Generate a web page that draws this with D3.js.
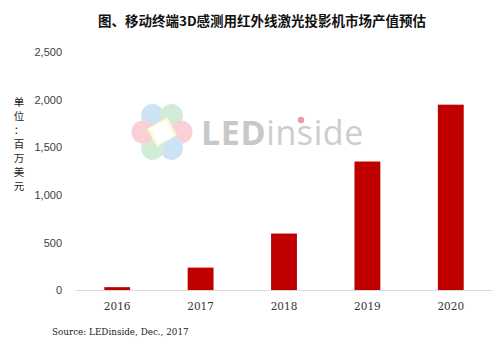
<!DOCTYPE html>
<html>
<head>
<meta charset="utf-8">
<script src="https://cdn.jsdelivr.net/npm/d3@7"></script>
<style>
  body { margin: 0; background: #fff; }
  svg { display: block; }
</style>
</head>
<body>
<div id="chart"></div>
<script>
var years = ["2016", "2017", "2018", "2019", "2020"];
var values = [35, 240, 597, 1352, 1948];
var yTicks = [0, 500, 1000, 1500, 2000, 2500];
var titleText = "图、移动终端3D感测用红外线激光投影机市场产值预估";
var unitChars = ["单", "位", "：", "百", "万", "美", "元"];
var sourceText = "Source: LEDinside, Dec., 2017";

var width = 500, height = 342;
var svg = d3.select("#chart").append("svg")
  .attr("width", width)
  .attr("height", height);

var x = d3.scaleBand()
  .domain(years)
  .range([75.5, 492.5])
  .paddingInner(0.69)
  .paddingOuter(0.345);

var y = d3.scaleLinear()
  .domain([0, 2500])
  .range([290.5, 52]);

// watermark logo, behind everything
var logo = svg.append("g").attr("transform", "translate(162,132)").attr("opacity", 0.45);
var petals = [
  { a: -120, c: "#8ec3ea" },
  { a: -60, c: "#9fd6a8" },
  { a: 0, c: "#f19aa6" },
  { a: 60, c: "#8ec3ea" },
  { a: 120, c: "#9fd6a8" },
  { a: 180, c: "#f19aa6" }
];
logo.selectAll("circle.petal").data(petals).enter().append("circle")
  .attr("class", "petal")
  .attr("cx", function(d) { return 19 * Math.cos(d.a * Math.PI / 180); })
  .attr("cy", function(d) { return 19 * Math.sin(d.a * Math.PI / 180); })
  .attr("r", 11.5)
  .attr("fill", function(d) { return d.c; });
logo.append("polygon")
  .attr("points", "-15,-3 5,-15 15,3 -5,15")
  .attr("fill", "#f7f3a0");
logo.append("rect")
  .attr("x", -9).attr("y", -9).attr("width", 18).attr("height", 18)
  .attr("transform", "rotate(-25)")
  .attr("fill", "#fff");

var wm = svg.append("text")
  .attr("x", 201)
  .attr("y", 145)
  .style("font-family", "'Open Sans', 'DejaVu Sans', sans-serif")
  .style("font-size", "34px")
  .style("letter-spacing", "0.6px");
wm.append("tspan").text("LED").style("font-weight", "bold").attr("fill", "#c8c8c8");
wm.append("tspan").text("inside").attr("fill", "#cdcdcd");
svg.append("circle").attr("cx", 301).attr("cy", 120).attr("r", 3.2).attr("fill", "#ec9aa8");

// title
svg.append("text")
  .attr("x", 262)
  .attr("y", 26)
  .attr("text-anchor", "middle")
  .style("font-family", "'Noto Sans CJK SC', sans-serif")
  .style("font-size", "13.5px")
  .style("font-weight", "bold")
  .attr("fill", "#111")
  .text(titleText);

// y axis labels
svg.selectAll("text.ytick").data(yTicks).enter().append("text")
  .attr("class", "ytick")
  .attr("x", 62)
  .attr("y", function(d) { return y(d); })
  .attr("dy", "0.35em")
  .attr("text-anchor", "end")
  .style("font-family", "'Liberation Sans', sans-serif")
  .style("font-size", "11px")
  .attr("fill", "#404040")
  .text(function(d) { return d3.format(",")(d); });

// unit label stacked vertically
svg.selectAll("text.unit").data(unitChars).enter().append("text")
  .attr("class", "unit")
  .attr("x", 19)
  .attr("y", function(d, i) { return 102 + i * 14; })
  .attr("dy", "0.35em")
  .attr("text-anchor", "middle")
  .style("font-family", "'Noto Sans CJK SC', sans-serif")
  .style("font-size", "10.5px")
  .attr("fill", "#222")
  .text(function(d) { return d; });

// bars
svg.selectAll("rect.bar").data(values).enter().append("rect")
  .attr("class", "bar")
  .attr("x", function(d, i) { return x(years[i]); })
  .attr("y", function(d) { return y(d); })
  .attr("width", x.bandwidth())
  .attr("height", function(d) { return y(0) - y(d); })
  .attr("fill", "#c00000");

// baseline
svg.append("line")
  .attr("x1", 75.5).attr("x2", 492.5)
  .attr("y1", y(0)).attr("y2", y(0))
  .attr("stroke", "#d9d9d9")
  .attr("stroke-width", 1);

// x labels
svg.selectAll("text.xtick").data(years).enter().append("text")
  .attr("class", "xtick")
  .attr("x", function(d) { return x(d) + x.bandwidth() / 2; })
  .attr("y", 306)
  .attr("dy", "0.35em")
  .attr("text-anchor", "middle")
  .style("font-family", "'DejaVu Serif', serif")
  .style("font-size", "10.5px")
  .attr("fill", "#333")
  .text(function(d) { return d; });

// source
svg.append("text")
  .attr("x", 52)
  .attr("y", 332)
  .attr("dy", "0.35em")
  .style("font-family", "'DejaVu Serif', serif")
  .style("font-size", "8.8px")
  .attr("fill", "#222")
  .text(sourceText);
</script>
</body>
</html>
